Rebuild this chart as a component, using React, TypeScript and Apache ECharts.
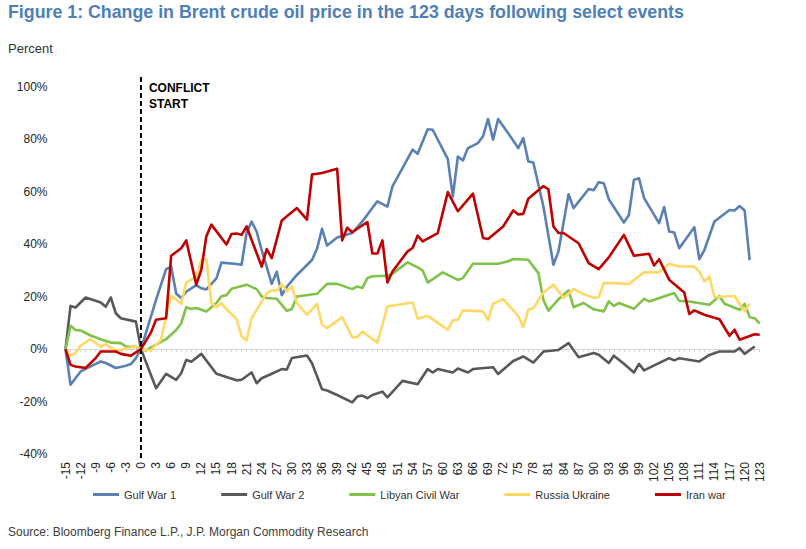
import React, { useEffect, useRef } from "react";
import * as echarts from "echarts";

const TITLE = "Figure 1: Change in Brent crude oil price in the 123 days following select events";
const Y_UNIT = "Percent";
const SOURCE = "Source: Bloomberg Finance L.P., J.P. Morgan Commodity Research";
const EVENT_LABEL = ["CONFLICT", "START"];
const EVENT_DAY = 0;

const X_MIN = -15;
const X_MAX = 123;
const X_STEP = 3;
const Y_MIN = -40;
const Y_MAX = 100;
const Y_STEP = 20;

const SERIES_NAMES = ["Gulf War 1", "Gulf War 2", "Libyan Civil War", "Russia Ukraine", "Iran war"];
const SERIES_COLORS = ["#5b80b2", "#595959", "#80c24a", "#ffd966", "#c00000"];

// [day, % change]
const gulfWar1 = [
  [-15, 0], [-14, -13.6], [-12, -8.5], [-10, -6.6], [-8, -4.7], [-7, -5.3], [-5, -7.2], [-3, -6.3], [-2, -5.7], [-1, -3.4],
  [0, 0], [3, 18.8], [5, 30.5], [6, 31.5], [7, 21.2], [8, 19.5], [9, 21.9], [11, 24.4], [12, 23.2], [13, 22.8], [15, 27],
  [16, 33], [19, 32.5], [20, 32.2], [21, 44.3], [22, 48.7], [23, 44.8], [24, 37.8], [26, 24.9], [27, 29.5], [28, 20.6],
  [29, 23.8], [31, 28.3], [34, 34], [35, 38.3], [36, 45.9], [37, 39.5], [39, 42.6], [42, 44.3], [44, 48.7], [47, 56.4],
  [49, 54.4], [50, 62.1], [54, 76.1], [55, 74.5], [57, 83.9], [58, 83.7], [61, 72.5], [62, 58.2], [63, 73.5], [64, 72],
  [65, 76.7], [67, 78.6], [68, 81.2], [69, 87.8], [70, 79.9], [71, 87.8], [73, 82.4], [75, 76.7], [76, 80.5], [77, 71.6],
  [78, 71.2], [80, 54.4], [82, 32.2], [83, 37.3], [85, 59.1], [86, 53.8], [89, 61.1], [90, 60.6], [91, 63.7], [92, 63.3],
  [93, 57.2], [96, 48.3], [97, 51.2], [98, 64.6], [99, 65.2], [100, 57.7], [103, 48.1], [104, 54.2], [105, 44.9],
  [106, 44.5], [107, 38.5], [110, 46.5], [111, 34.3], [112, 37.8], [114, 48.7], [117, 53.1], [118, 52.9], [119, 54.6],
  [120, 52.9], [121, 34.0],
];

const gulfWar2 = [
  [-15, 0], [-14, 16.5], [-13, 15.9], [-11, 19.7], [-8, 17.8], [-7, 16.2], [-6, 19.7], [-5, 13.7], [-4, 11.8], [-1, 10.5],
  [0, 0], [3, -14.9], [5, -9.4], [7, -11.7], [8, -9.2], [9, -4.1], [10, -4.8], [12, -1.8], [15, -9.4], [19, -11.9],
  [20, -11.7], [22, -8.9], [23, -13], [24, -11.1], [26, -9.4], [28, -7.6], [29, -7.8], [30, -3.4], [33, -2.4], [34, -5.4],
  [36, -15.3], [37, -15.8], [39, -17.5], [42, -20.3], [43, -18.1], [44, -17.7], [45, -18.7], [46, -17.5], [48, -16.2],
  [49, -18.4], [52, -12.1], [55, -13.4], [57, -7.6], [58, -8.9], [59, -7.6], [62, -8.9], [63, -7.4], [65, -8.9],
  [66, -7.6], [70, -6.9], [71, -9.5], [74, -4.5], [76, -2.8], [78, -5.1], [80, -0.9], [83, -0.3], [85, 2.3], [87, -3.1],
  [90, -1.5], [91, -2.1], [93, -5.3], [94, -2.5], [96, -5.6], [98, -8.9], [99, -5.6], [100, -8.1], [105, -3.4],
  [106, -4.3], [107, -3.5], [111, -4.7], [113, -2.2], [115, -0.9], [118, -0.9], [119, 0.4], [120, -1.8], [122, 1.0],
];

const libyanCivilWar = [
  [-15, 0], [-14, 8.9], [-13, 7.3], [-12, 7.1], [-10, 5.2], [-8, 3.8], [-6, 2.5], [-4, 2.3], [-3, 1.0], [-1, 0.8],
  [0, 0], [1, -0.5], [3, 1.7], [5, 3.8], [7, 7.3], [8, 9.9], [9, 16], [10, 15.3], [11, 15.7], [13, 14.4], [15, 17.6],
  [16, 20.2], [17, 20.6], [18, 23], [21, 24.6], [23, 22.9], [24, 20.1], [25, 19.5], [27, 19.2], [29, 14.6], [30, 15.3],
  [31, 20.1], [35, 21.1], [37, 24.9], [39, 24.9], [42, 22.9], [43, 23.9], [44, 23.3], [45, 27.1], [46, 27.8], [49, 28],
  [50, 28.8], [53, 33.1], [55, 31.2], [56, 30], [57, 25.4], [60, 29.3], [63, 26.4], [64, 27.1], [66, 32.6], [71, 32.6],
  [73, 33.5], [74, 34.4], [77, 34.1], [79, 29.0], [80, 18.8], [81, 14.7], [83, 19.0], [85, 22.4], [86, 16.0], [88, 17.6],
  [90, 15.2], [92, 14.4], [93, 18.2], [94, 16.5], [95, 17.6], [98, 15.4], [100, 19.2], [101, 18.2], [106, 21.4],
  [107, 18.4], [109, 18.2], [113, 16.9], [115, 20.3], [116, 17.3], [119, 15.0], [120, 17.3], [121, 12.2], [122, 11.8],
  [123, 9.7],
];

const russiaUkraine = [
  [-15, 0], [-14, -2.5], [-13, -1.5], [-12, 1.3], [-10, 3.8], [-9, 2.3], [-8, 0.8], [-7, 2.0], [-6, 0.5], [-5, -0.3],
  [-4, -0.3], [-2, 0.6], [-1, 1.0], [0, 0], [2, -0.5], [3, 1.7], [4, 3.6], [5, 12.5], [6, 20.4], [8, 17.3], [9, 25.4],
  [11, 27.7], [12, 34.1], [13, 34.3], [14, 17.6], [15, 16], [16, 17.5], [17, 15.3], [19, 11.5], [20, 4.8], [21, 3.3],
  [22, 11.8], [23, 15.0], [25, 21.3], [26, 22.4], [27, 22.4], [28, 24.9], [29, 22.0], [30, 23.9], [31, 17.6], [33, 13.1],
  [35, 17.3], [36, 9.3], [37, 8.0], [40, 12.2], [42, 4.6], [43, 4.6], [44, 6.7], [47, 2.5], [48, 9.3], [49, 16.3],
  [54, 17.8], [55, 11.6], [57, 12.7], [61, 7.4], [62, 11.0], [63, 11.2], [64, 14.8], [68, 14.4], [69, 11.2], [70, 17.3],
  [72, 19.1], [75, 12.7], [76, 8.4], [77, 15.0], [78, 15.6], [80, 21.6], [82, 24.6], [84, 19.5], [86, 22.9], [88, 21.0],
  [90, 19.5], [91, 19.8], [92, 25.2], [94, 25.2], [97, 24.8], [100, 29.3], [103, 29.3], [105, 32.6], [107, 31.5],
  [110, 31.5], [111, 29.6], [112, 25.8], [113, 27.7], [114, 19.8], [116, 20.1], [118, 20.3], [119, 17.3], [120, 14.4],
  [121, 17.3],
];

const iranWar = [
  [-15, 0], [-14, -6.0], [-13, -6.6], [-11, -7.2], [-9, -3.4], [-8, -0.9], [-5, -0.9], [-4, -1.8], [-2, -2.5], [0, 0],
  [2, 6.4], [3, 11.2], [5, 11.8], [6, 35.6], [8, 38.5], [9, 41.5], [11, 24.6], [12, 30.3], [13, 43.1], [14, 47.5],
  [17, 39.9], [18, 43.9], [19, 44.1], [20, 43.6], [21, 46.8], [24, 31.5], [25, 38.2], [26, 34.7], [28, 49.1], [31, 53.8],
  [33, 49.4], [34, 66.6], [36, 67.2], [39, 68.8], [40, 41.5], [41, 46.3], [42, 44.6], [45, 48.5], [46, 36.5], [47, 36.5],
  [48, 41.5], [49, 25.4], [50, 29.6], [53, 37.3], [54, 38.6], [55, 43.3], [56, 41.1], [59, 44.3], [61, 59.9], [63, 52.6],
  [66, 59.3], [68, 42.4], [69, 42.0], [72, 46.8], [74, 52.9], [75, 51.4], [76, 51.6], [77, 57.4], [80, 62.2], [81, 61.0],
  [82, 46.8], [83, 44.3], [84, 44.3], [87, 40.4], [89, 32.8], [91, 30.5], [93, 35.0], [96, 43.6], [98, 35.6], [101, 36.4],
  [102, 31.9], [103, 34.3], [105, 26.5], [108, 21.6], [109, 13.4], [110, 14.8], [112, 13.1], [115, 11.4], [117, 5.1],
  [118, 7.4], [119, 3.6], [122, 5.7], [123, 5.5],
];

const SERIES_DATA = [gulfWar1, gulfWar2, libyanCivilWar, russiaUkraine, iranWar];

const FONT = "'Liberation Sans', Arial, sans-serif";

export default function App() {
  const ref = useRef<HTMLDivElement>(null);

  useEffect(() => {
    if (!ref.current) return;
    const chart = echarts.init(ref.current, null, { renderer: "svg" });
    chart.setOption({
      animation: false,
      backgroundColor: "#ffffff",
      title: {
        text: TITLE,
        left: 8,
        top: 3,
        padding: 0,
        textStyle: { fontFamily: FONT, fontSize: 17.8, fontWeight: "bold", color: "#4d7fb8" },
      },
      grid: { left: 65.5, right: 46.3, top: 87, bottom: 95, containLabel: false },
      xAxis: [
        {
          type: "value",
          min: X_MIN,
          max: X_MAX,
          interval: X_STEP,
          position: "bottom",
          axisLine: { show: false, onZero: false },
          axisTick: { show: false },
          splitLine: { show: false },
          axisLabel: {
            rotate: 90,
            margin: 8,
            fontSize: 12,
            fontFamily: FONT,
            color: "#262626",
            showMinLabel: true,
            showMaxLabel: true,
          },
        },
        {
          type: "value",
          min: X_MIN,
          max: X_MAX,
          interval: 1,
          position: "bottom",
          axisLine: { show: true, onZero: true, lineStyle: { color: "#d9d9d9", width: 1 } },
          axisTick: { show: true, length: 3, lineStyle: { color: "#d9d9d9", width: 1 } },
          axisLabel: { show: false },
          splitLine: { show: false },
        },
      ],
      yAxis: {
        type: "value",
        min: Y_MIN,
        max: Y_MAX,
        interval: Y_STEP,
        axisLine: { show: false },
        axisTick: { show: false },
        splitLine: { show: false },
        axisLabel: {
          formatter: "{value}%",
          margin: 18,
          fontSize: 12,
          fontFamily: FONT,
          color: "#262626",
        },
      },
      legend: {
        data: SERIES_NAMES,
        left: 93,
        top: 489,
        padding: 0,
        icon: "rect",
        itemWidth: 26,
        itemHeight: 3,
        itemGap: 45,
        textStyle: { fontFamily: FONT, fontSize: 11, color: "#333333" },
      },
      series: SERIES_NAMES.map((name, i) => ({
        name,
        type: "line",
        xAxisIndex: 0,
        data: SERIES_DATA[i],
        showSymbol: false,
        symbol: "none",
        color: SERIES_COLORS[i],
        lineStyle: { width: 2.6, color: SERIES_COLORS[i], join: "round" },
        z: 3 + i,
      })),
    });

    const x0 = chart.convertToPixel({ xAxisIndex: 0 }, EVENT_DAY) as number;
    const yTop = chart.convertToPixel({ yAxisIndex: 0 }, Y_MAX) as number;
    const yBot = chart.convertToPixel({ yAxisIndex: 0 }, Y_MIN) as number;

    chart.setOption({
      graphic: [
        {
          type: "text",
          x: 8,
          y: 48,
          style: { text: Y_UNIT, fontFamily: FONT, fontSize: 13, fill: "#333333", align: "left", verticalAlign: "middle" },
        },
        {
          type: "line",
          z: 20,
          shape: { x1: x0, y1: yTop - 10, x2: x0, y2: yBot + 7 },
          style: { stroke: "#000000", lineWidth: 2, lineDash: [5, 3] },
        },
        {
          type: "text",
          x: x0 + 8,
          y: 87.5,
          style: { text: EVENT_LABEL[0], fontFamily: FONT, fontSize: 12, fontWeight: "bold", fill: "#000000", align: "left", verticalAlign: "middle" },
        },
        {
          type: "text",
          x: x0 + 8,
          y: 104,
          style: { text: EVENT_LABEL[1], fontFamily: FONT, fontSize: 12, fontWeight: "bold", fill: "#000000", align: "left", verticalAlign: "middle" },
        },
        {
          type: "text",
          x: 8,
          y: 532,
          style: { text: SOURCE, fontFamily: FONT, fontSize: 12, fill: "#404040", align: "left", verticalAlign: "middle" },
        },
      ],
    });

    return () => chart.dispose();
  }, []);

  return <div ref={ref} style={{ position: "absolute", left: 0, top: 0, width: 806, height: 549 }} />;
}
